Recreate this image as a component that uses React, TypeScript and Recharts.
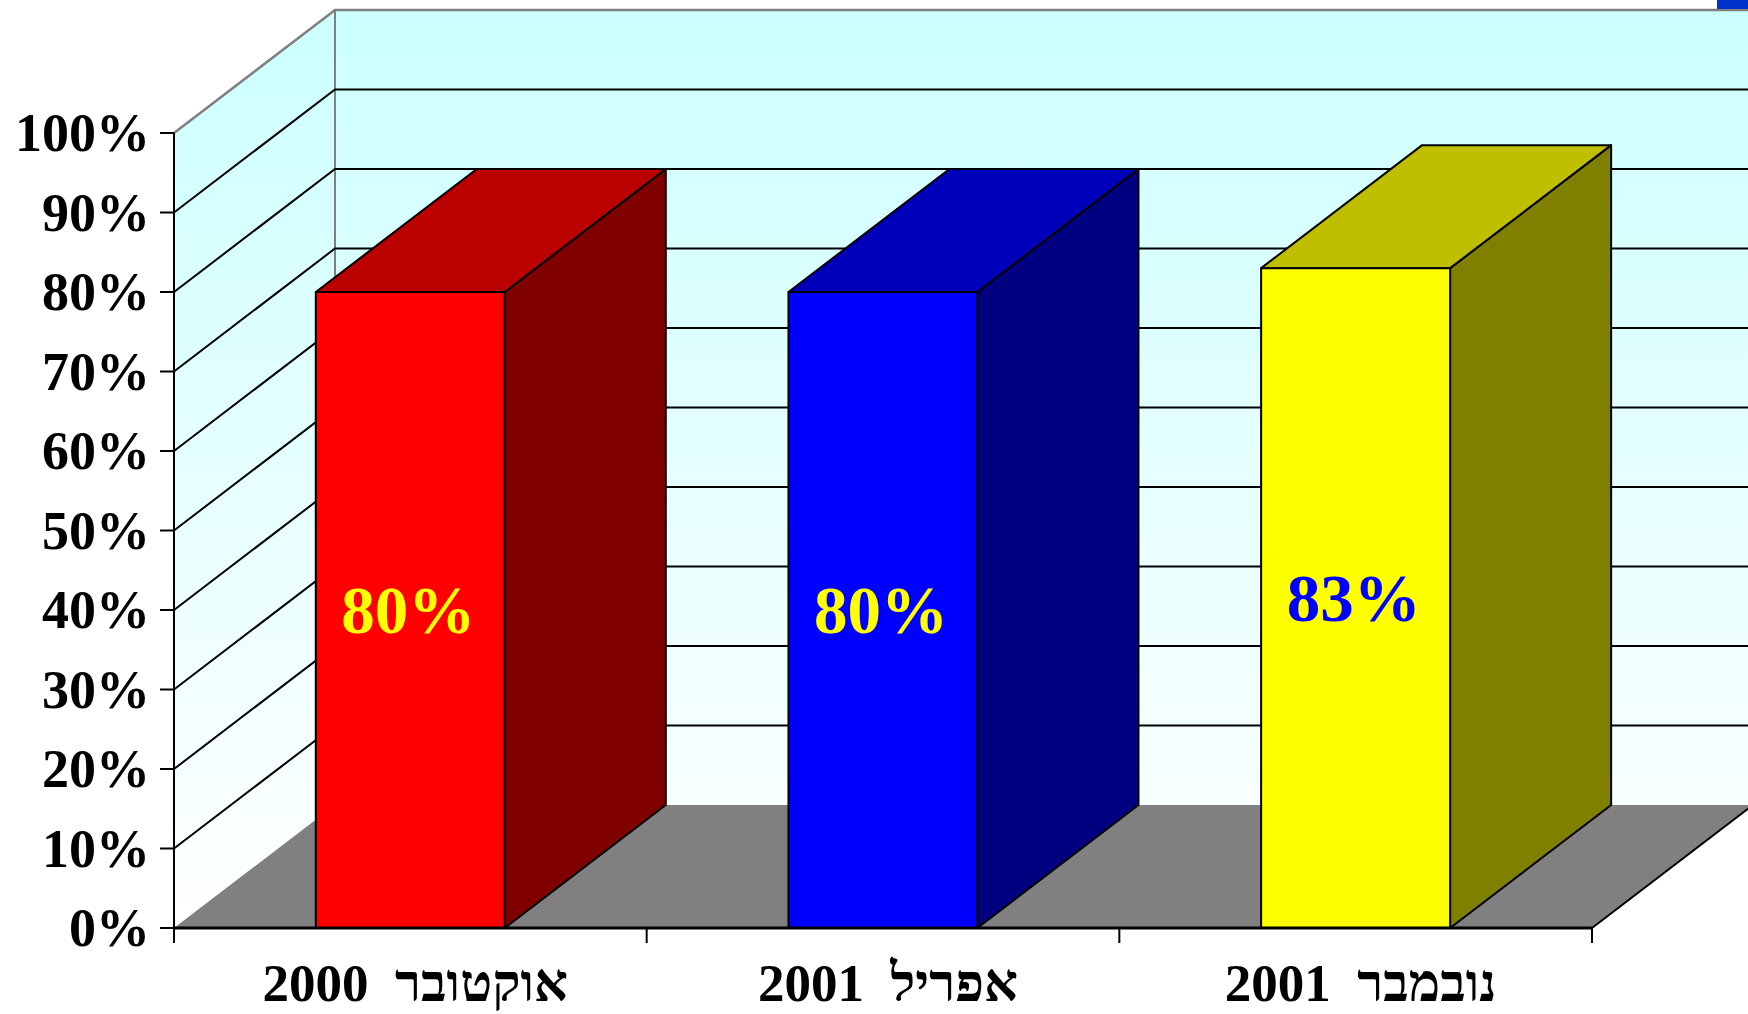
import { BarChart, Bar, XAxis, YAxis, CartesianGrid, ReferenceArea, LabelList } from "recharts";

const categories = ["2000  אוקטובר", "2001  אפריל", "2001  נובמבר"];
const values = [80, 80, 83];
const yTicks = [0, 10, 20, 30, 40, 50, 60, 70, 80, 90, 100];

const faceColors = ["#ff0000", "#0000ff", "#ffff00"];
const topColors = ["#bb0000", "#0000bb", "#bfbf00"];
const sideColors = ["#800000", "#000080", "#808000"];
const labelColors = ["#ffff00", "#ffff00", "#0000ff"];

const data = categories.map((name, i) => ({ name, value: values[i] }));

// how far the "3D" depth pushes things back
const DEPTH_X = 161;
const DEPTH_Y = 123;
const FONT = '"Liberation Serif", "Times New Roman", serif';

const pts = (list: number[][]) => list.map((p) => p.join(",")).join(" ");

const Box = (props: any) => {
  const { x, y, width, height, index } = props;
  const r = x + width;
  const b = y + height;
  return (
    <g stroke="#000" strokeWidth={2} strokeLinejoin="round">
      <polygon points={pts([[r, y], [r + DEPTH_X, y - DEPTH_Y], [r + DEPTH_X, b - DEPTH_Y], [r, b]])} fill={sideColors[index]} />
      <polygon points={pts([[x, y], [x + DEPTH_X, y - DEPTH_Y], [r + DEPTH_X, y - DEPTH_Y], [r, y]])} fill={topColors[index]} />
      <rect x={x} y={y} width={width} height={height} fill={faceColors[index]} />
    </g>
  );
};

const Room = (props: any) => {
  const { x, y, width, height } = props;
  const r = x + width;
  const b = y + height;
  const backTop = y - DEPTH_Y;
  const backBottom = b - DEPTH_Y;
  return (
    <g>
      <defs>
        <linearGradient id="wall" x1="0" y1={backTop} x2="0" y2={b} gradientUnits="userSpaceOnUse">
          <stop offset="0%" stopColor="#ccffff" />
          <stop offset="100%" stopColor="#ffffff" />
        </linearGradient>
      </defs>
      <polygon points={pts([[x, y], [x + DEPTH_X, backTop], [x + DEPTH_X, backBottom], [x, b]])} fill="url(#wall)" />
      <rect x={x + DEPTH_X} y={backTop} width={width} height={height} fill="url(#wall)" />
      <polygon points={pts([[x, b], [r, b], [r + DEPTH_X, backBottom], [x + DEPTH_X, backBottom]])} fill="#808080" />
      <line x1={r} y1={b} x2={r + DEPTH_X} y2={backBottom} stroke="#000" strokeWidth={2} />
      <polyline points={pts([[x, y], [x + DEPTH_X, backTop], [r + DEPTH_X, backTop]])} fill="none" stroke="#808080" strokeWidth={2.5} />
      <line x1={x + DEPTH_X} y1={backTop} x2={x + DEPTH_X} y2={backBottom} stroke="#808080" strokeWidth={2} />
      <rect x={1717} y={0} width={31} height={9} fill="#0033cc" />
    </g>
  );
};

const gridLine = (props: any) => {
  const { x1, x2, y1, offset } = props;
  // top and bottom edges belong to the room outline
  if (offset && (Math.abs(y1 - offset.top) < 1 || Math.abs(y1 - (offset.top + offset.height)) < 1)) return <g key={props.key} />;
  return (
    <polyline
      key={props.key}
      points={pts([[x1, y1], [x1 + DEPTH_X, y1 - DEPTH_Y], [x2 + DEPTH_X, y1 - DEPTH_Y]])}
      fill="none"
      stroke="#000"
      strokeWidth={2}
    />
  );
};

const YTick = ({ x, y, payload }: any) => (
  <text x={x - 8} y={y} dy="0.34em" textAnchor="end" fontFamily={FONT} fontWeight="bold" fontSize={54} fill="#000">
    {payload.value}%
  </text>
);

const XTick = ({ x, y, payload, index }: any) => {
  const half = 1418 / 6;
  return (
    <g>
      <line x1={x - half} y1={y - 8} x2={x - half} y2={y + 7} stroke="#000" strokeWidth={2} />
      {index === categories.length - 1 && <line x1={x + half} y1={y - 8} x2={x + half} y2={y + 7} stroke="#000" strokeWidth={2} />}
      <text x={x + 5} y={y + 47} dy="0.34em" textAnchor="middle" fontFamily={FONT} fontWeight="bold" fontSize={53} fill="#000" style={{ whiteSpace: "pre" }}>
        {payload.value}
      </text>
    </g>
  );
};

const ValueLabel = ({ x, y, width, height, index, value }: any) => (
  <text x={x + width / 2 - 2} y={y + height / 2} dy="0.34em" textAnchor="middle" fontFamily={FONT} fontWeight="bold" fontSize={67} fill={labelColors[index]}>
    {value}%
  </text>
);

export default function App() {
  return (
    <div style={{ width: 1748, height: 1014 }}>
      <style>{"body{margin:0;background:#fff}"}</style>
      <BarChart width={1748} height={1014} data={data} margin={{ top: 133, right: 156, bottom: 0, left: 0 }} barCategoryGap="30%">
        <ReferenceArea y1={0} y2={100} shape={Room} ifOverflow="visible" zIndex={-200} />
        <CartesianGrid vertical={false} horizontal={gridLine} zIndex={-100} />
        <XAxis dataKey="name" height={86} tickLine={false} tick={XTick} axisLine={{ stroke: "#000", strokeWidth: 3 }} interval={0} />
        <YAxis domain={[0, 100]} ticks={yTicks} width={174} tick={YTick} tickSize={14} tickLine={{ stroke: "#000", strokeWidth: 2 }} axisLine={{ stroke: "#000", strokeWidth: 2 }} interval={0} />
        <Bar dataKey="value" shape={Box} isAnimationActive={false}>
          <LabelList dataKey="value" content={ValueLabel} />
        </Bar>
      </BarChart>
    </div>
  );
}
